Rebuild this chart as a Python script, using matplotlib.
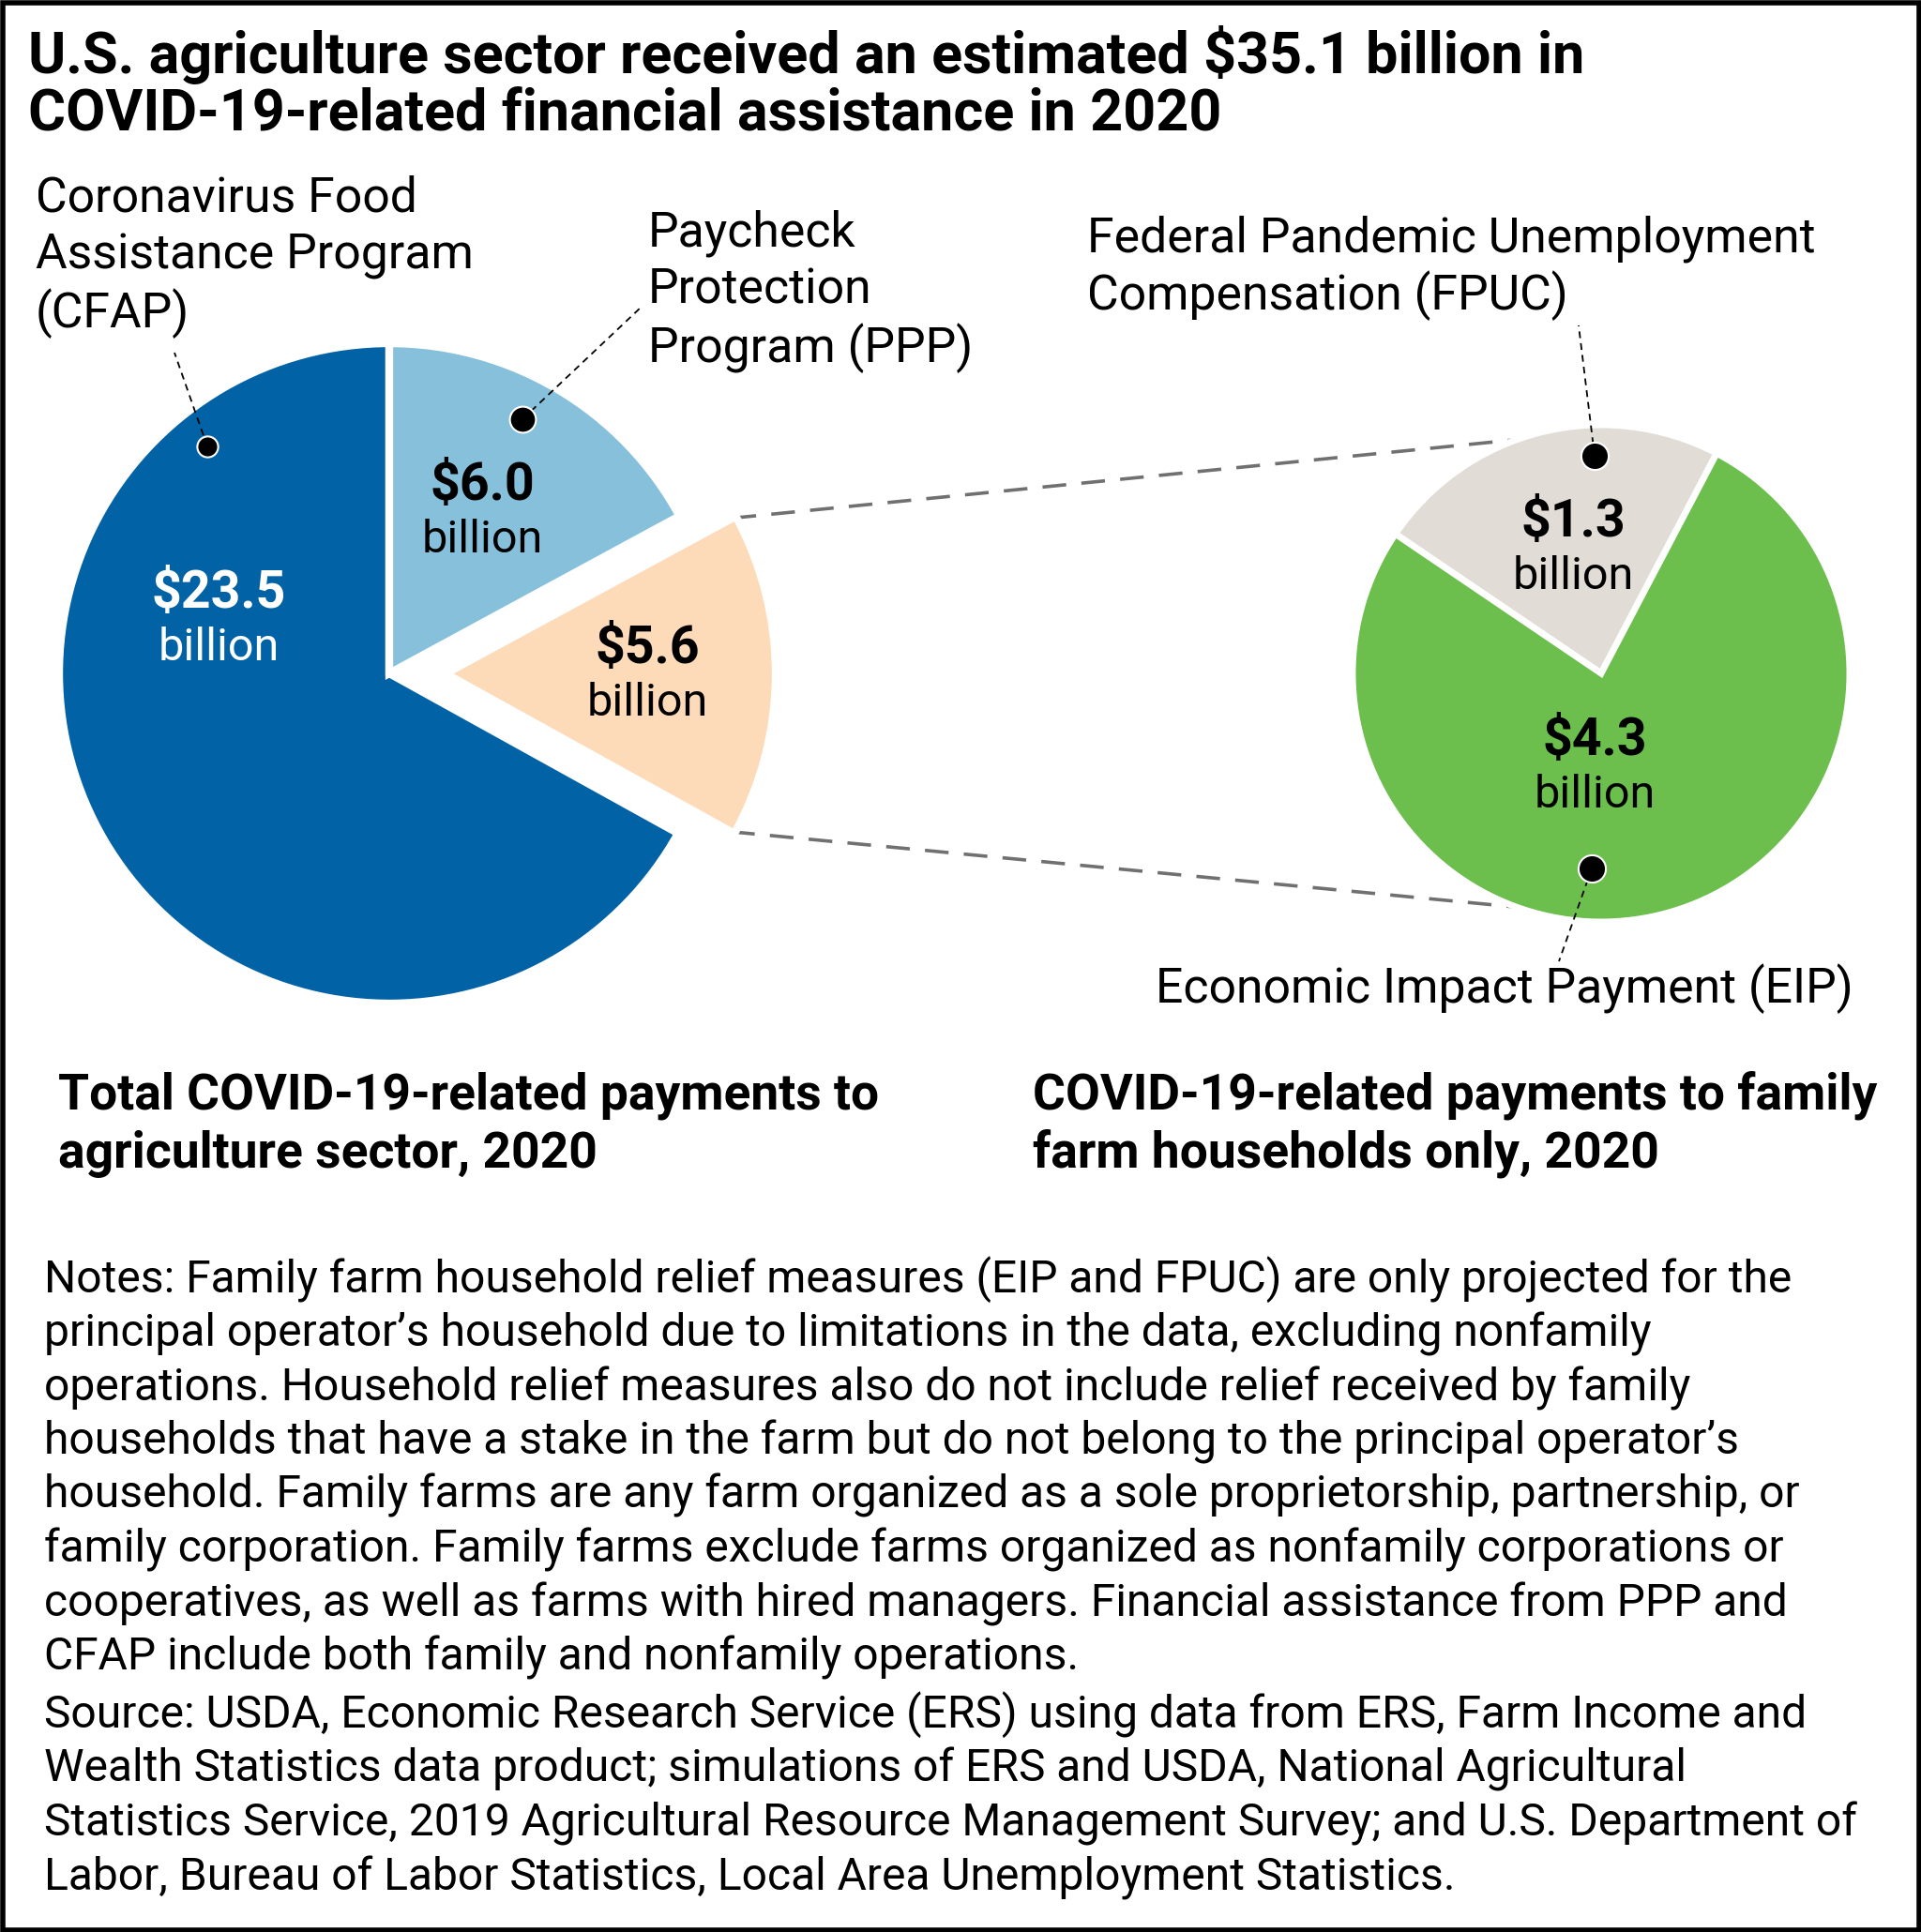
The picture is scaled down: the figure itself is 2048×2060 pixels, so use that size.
import matplotlib
matplotlib.use('Agg')
import matplotlib.pyplot as plt
import numpy as np
from matplotlib.patches import Rectangle

plt.rcParams['font.family'] = ['Roboto', 'DejaVu Sans']

# Данные (млрд долларов)
sector_names = ['Coronavirus Food\nAssistance Program\n(CFAP)',
                'Family farm households',
                'Paycheck\nProtection\nProgram (PPP)']
sector_values = [23.5, 5.6, 6.0]
household_names = ['Federal Pandemic Unemployment\nCompensation (FPUC)',
                   'Economic Impact Payment (EIP)']
household_values = [1.3, 4.3]

sector_colors = ['#0262A6', '#FDDAB8', '#86C0DA']
household_colors = ['#E1DDD6', '#6CBE4D']

title = ('U.S. agriculture sector received an estimated $35.1 billion in\n'
         'COVID-19-related financial assistance in 2020')
sub_left = 'Total COVID-19-related payments to\nagriculture sector, 2020'
sub_right = 'COVID-19-related payments to family\nfarm households only, 2020'
notes = [
    'Notes: Family farm household relief measures (EIP and FPUC) are only projected for the',
    'principal operator\u2019s household due to limitations in the data, excluding nonfamily',
    'operations. Household relief measures also do not include relief received by family',
    'households that have a stake in the farm but do not belong to the principal operator\u2019s',
    'household. Family farms are any farm organized as a sole proprietorship, partnership, or',
    'family corporation. Family farms exclude farms organized as nonfamily corporations or',
    'cooperatives, as well as farms with hired managers. Financial assistance from PPP and',
    'CFAP include both family and nonfamily operations.',
]
source = [
    'Source: USDA, Economic Research Service (ERS) using data from ERS, Farm Income and',
    'Wealth Statistics data product; simulations of ERS and USDA, National Agricultural',
    'Statistics Service, 2019 Agricultural Resource Management Survey; and U.S. Department of',
    'Labor, Bureau of Labor Statistics, Local Area Unemployment Statistics.',
]

W, H = 2048, 2060


def Y(y):
    # пиксели сверху -> координаты снизу
    return H - y


fig = plt.figure(figsize=(W / 100, H / 100), dpi=100)
ax = fig.add_axes([0, 0, 1, 1])

# левый пирог (explode у pie задаётся в единицах данных)
c1 = np.array([415, Y(718)])
r1 = 352
expl = 60
ax.pie(sector_values, center=c1, radius=r1, startangle=90, counterclock=True,
       colors=sector_colors, explode=[0, expl, 0],
       wedgeprops=dict(edgecolor='white', linewidth=6))

# правый пирог
c2 = np.array([1707, Y(718)])
r2 = 265
ax.pie(household_values, center=c2, radius=r2, startangle=62.3, counterclock=True,
       colors=household_colors,
       wedgeprops=dict(edgecolor='white', linewidth=5))

# пунктир от выдвинутого сектора к правому пирогу
total = sum(sector_values)
a0 = 90 + 360 * sector_values[0] / total
a1 = a0 + 360 * sector_values[1] / total
mid = np.radians((a0 + a1) / 2)
c_ex = c1 + expl * np.array([np.cos(mid), np.sin(mid)])
for a_left, a_right in [(a1, 110.7), (a0, -110.7)]:
    p = c_ex + (r1 - 4) * np.array([np.cos(np.radians(a_left)), np.sin(np.radians(a_left))])
    q = c2 + 266 * np.array([np.cos(np.radians(a_right)), np.sin(np.radians(a_right))])
    ax.plot([p[0], q[0]], [p[1], q[1]], color='#707070', lw=2.6,
            dashes=(7, 4.5), zorder=0)

# точки и выноски
dots = [((221, 476), (186, 376), 16),
        ((557, 447), (684, 327), 20),
        ((1700, 486), (1683, 347), 21),
        ((1697, 926), (1662, 1025), 21)]
for (dx, dy), (lx, ly), ms in dots:
    ax.plot([dx, lx], [Y(dy), Y(ly)], color='black', lw=1.3, dashes=(4, 3), zorder=3)
    ax.plot(dx, Y(dy), 'o', color='black', ms=ms, mec='white', mew=1.5, zorder=4)

# подписи значений
lab_fs_bold, lab_fs = 40, 35
value_pos = [(233, 648, 'white'), (690, 707, 'black'), (514, 533, 'black')]
for v, (x, y, col) in zip(sector_values, value_pos):
    ax.text(x, Y(y), f'${v:.1f}', ha='center', va='baseline', fontsize=lab_fs_bold,
            fontweight='bold', color=col)
    ax.text(x, Y(y + 56), 'billion', ha='center', va='baseline', fontsize=lab_fs, color=col)
for v, (x, y) in zip(household_values, [(1677, 572), (1700, 805)]):
    ax.text(x, Y(y), f'${v:.1f}', ha='center', va='baseline', fontsize=lab_fs_bold,
            fontweight='bold', color='black')
    ax.text(x, Y(y + 56), 'billion', ha='center', va='baseline', fontsize=lab_fs, color='black')

# названия программ
name_fs = 37.3


def lines(txt, x, y0, step, **kw):
    for i, s in enumerate(txt.split('\n') if isinstance(txt, str) else txt):
        ax.text(x, Y(y0 + i * step), s, ha='left', va='baseline', **kw)


lines(sector_names[0], 38, 225, 62, fontsize=name_fs)
lines(sector_names[2], 691, 262, 62, fontsize=name_fs)
lines(household_names[0], 1159, 268, 62, fontsize=name_fs)
lines(household_names[1], 1232, 1069, 62, fontsize=name_fs)

# заголовки
lines(title, 30, 78, 61, fontsize=44, fontweight='bold')
lines(sub_left, 62, 1182, 63, fontsize=38.4, fontweight='bold')
lines(sub_right, 1101, 1182, 63, fontsize=38.4, fontweight='bold')

# примечания и источник
lines(notes, 47, 1378, 57.5, fontsize=34.6)
lines(source, 47, 1842, 57.7, fontsize=34.6)

# рамка
ax.add_patch(Rectangle((2.5, 2.5), W - 5, H - 5, fill=False, ec='black', lw=4, zorder=5))

ax.set_xlim(0, W)
ax.set_ylim(0, H)
ax.set_aspect('auto')
ax.axis('off')

fig.savefig('out.png', dpi=100)
